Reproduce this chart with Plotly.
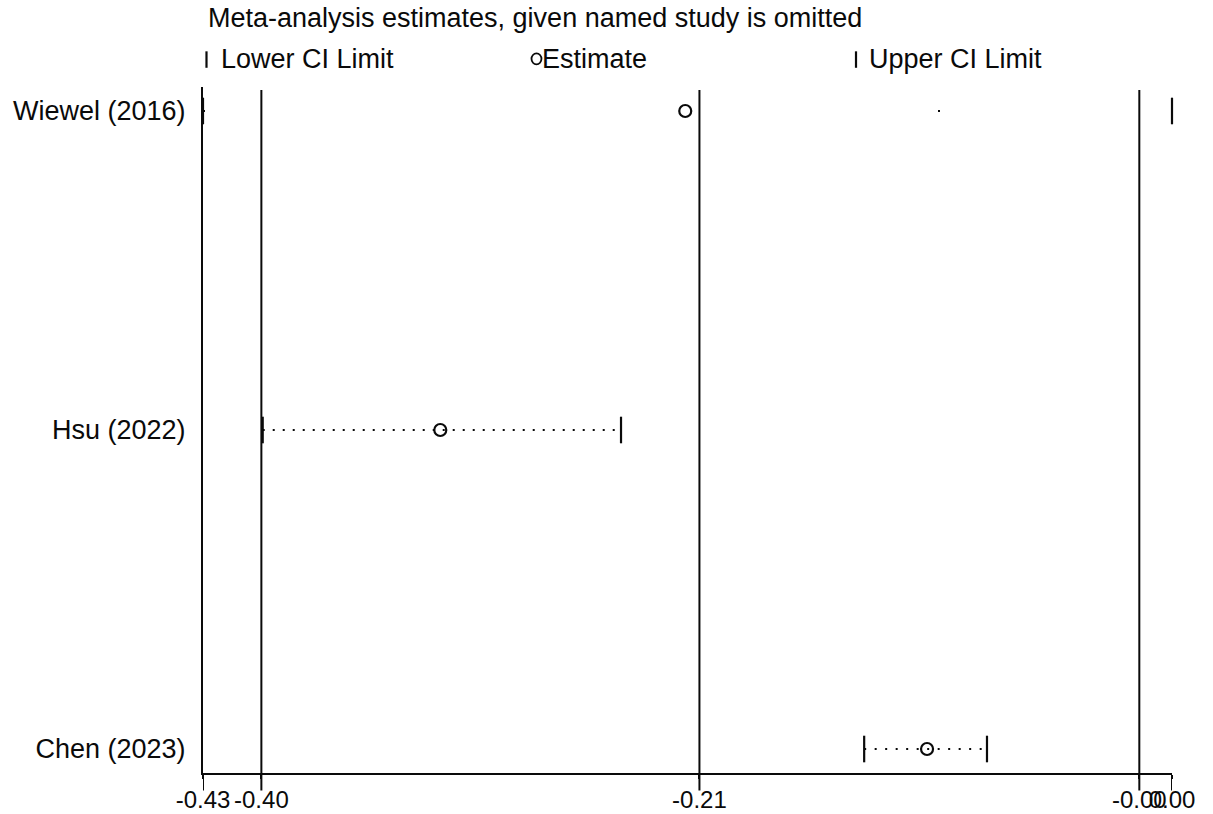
import plotly.graph_objects as go

# One-study-removed sensitivity analysis
studies = ["Wiewel (2016)", "Hsu (2022)", "Chen (2023)"]
estimates = [-0.216, -0.3247, -0.1087]
lower_ci = [-0.430, -0.4035, -0.1366]
upper_ci = [0.000, -0.2445, -0.0821]

# Pooled result shown as reference lines
overall_lower = -0.4041
overall_est = -0.2097
overall_upper = -0.0145

axis_min = -0.430
axis_max = 0.000
tick_vals = [axis_min, overall_lower, overall_est, overall_upper, axis_max]
tick_text = ["-0.43", "-0.40", "-0.21", "-0.00", "0.00"]

# dotted connector pattern for each row
row_dash = ["2px,733px", "2px,8px", "2px,8.5px"]

FONT = "Liberation Sans, Arial, sans-serif"
INK = "#0a0a0a"
rows = [2, 1, 0]

fig = go.Figure()

for i in range(len(studies)):
    fig.add_trace(go.Scatter(
        x=[lower_ci[i], upper_ci[i]], y=[rows[i], rows[i]],
        mode="lines", line=dict(color=INK, width=2, dash=row_dash[i]),
        hoverinfo="skip", showlegend=False, cliponaxis=False,
    ))

fig.add_trace(go.Scatter(
    x=lower_ci, y=rows, mode="markers", name="Lower CI Limit",
    marker=dict(symbol="line-ns", size=19, line=dict(color=INK, width=2.2)),
    showlegend=False, cliponaxis=False,
))
fig.add_trace(go.Scatter(
    x=upper_ci, y=rows, mode="markers", name="Upper CI Limit",
    marker=dict(symbol="line-ns", size=19, line=dict(color=INK, width=2.2)),
    showlegend=False, cliponaxis=False,
))
fig.add_trace(go.Scatter(
    x=estimates, y=rows, mode="markers", name="Estimate",
    marker=dict(symbol="circle-open", size=12, color=INK, line=dict(color=INK, width=2.2)),
    showlegend=False, cliponaxis=False,
))

# pooled lower / estimate / upper lines
for v in [overall_lower, overall_est, overall_upper]:
    fig.add_shape(type="line", xref="x", yref="paper", x0=v, x1=v, y0=0, y1=0.9956,
                  line=dict(color=INK, width=2))

# long tick marks hanging below the axis line
for v in tick_vals:
    fig.add_shape(type="line", xref="x", yref="paper", x0=v, x1=v, y0=-0.0255, y1=0,
                  line=dict(color=INK, width=2))

# header and legend row
fig.add_annotation(xref="paper", yref="paper", x=0.003, y=1.1006, xanchor="left", yanchor="middle",
                   text="Meta-analysis estimates, given named study is omitted", showarrow=False,
                   font=dict(family=FONT, size=27, color=INK))
legend_items = [("Lower CI Limit", 0.0165), ("Estimate", 0.3478), ("Upper CI Limit", 0.6853)]
for label, xp in legend_items:
    fig.add_annotation(xref="paper", yref="paper", x=xp, y=1.0408, xanchor="left", yanchor="middle",
                       text=label, showarrow=False, font=dict(family=FONT, size=27, color=INK))
for xp in [0.0036, 0.6739]:
    fig.add_shape(type="line", xref="paper", yref="paper", x0=xp, x1=xp, y0=1.028, y1=1.052,
                  line=dict(color=INK, width=2.2))
fig.add_shape(type="circle", xref="paper", yref="paper", x0=0.3390, x1=0.3493, y0=1.033, y1=1.049,
              line=dict(color=INK, width=1.8))

fig.update_xaxes(
    range=[axis_min, axis_max], showgrid=False, zeroline=False, automargin=False,
    showline=True, linecolor=INK, linewidth=2,
    tickmode="array", tickvals=tick_vals, ticktext=tick_text, tickangle=0,
    ticks="outside", ticklen=4, tickwidth=2, tickcolor=INK,
    tickfont=dict(family=FONT, size=24, color=INK),
)
fig.update_yaxes(
    range=[-0.0752, 2.0752], showgrid=False, zeroline=False, automargin=False,
    showline=True, linecolor=INK, linewidth=2,
    tickmode="array", tickvals=rows, ticktext=studies,
    ticks="outside", ticklen=10, tickcolor="rgba(0,0,0,0)",
    tickfont=dict(family=FONT, size=27, color=INK),
)
fig.update_layout(
    width=1213, height=814,
    margin=dict(l=203, r=41, t=87, b=41),
    paper_bgcolor="white", plot_bgcolor="white",
    showlegend=False,
)

fig.write_html("out.html")
